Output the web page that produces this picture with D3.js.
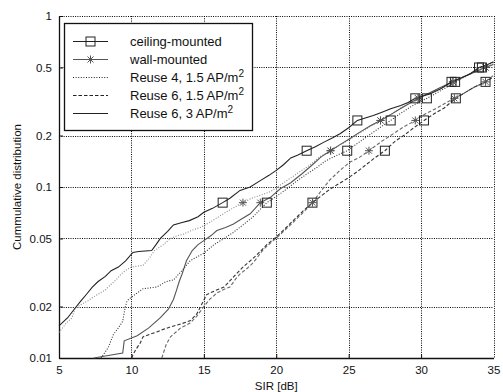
<!DOCTYPE html>
<html>
<head>
<meta charset="utf-8">
<script src="https://cdn.jsdelivr.net/npm/d3@7"></script>
<style>
  body { margin: 0; background: #fff; }
  svg { display: block; font-family: "Liberation Sans", Arial, Helvetica, sans-serif; }
</style>
</head>
<body>
<div id="chart"></div>
<script>
// axis ticks
const xTicks = [5, 10, 15, 20, 25, 30, 35];
const yTicks = [0.01, 0.02, 0.05, 0.1, 0.2, 0.5, 1];
const yTickLabels = ["0.01", "0.02", "0.05", "0.1", "0.2", "0.5", "1"];

// CDF levels at which the markers sit
const markerLevels = [0.081, 0.163, 0.245, 0.33, 0.412, 0.5];

// ceiling-mounted, Reuse 6, 3 AP/m2 (solid)
const ceilR6hi = [[5,0.0154],[5.6,0.0172],[6.2,0.020],[6.5,0.0215],[6.9,0.0236],[7.3,0.026],[7.7,0.028],[8.2,0.030],[8.6,0.0324],[9.1,0.034],[9.6,0.037],[10.1,0.0414],[10.5,0.042],[11.4,0.0425],[11.7,0.046],[12.0,0.050],[12.5,0.055],[12.9,0.060],[13.5,0.062],[14.0,0.0636],[14.6,0.067],[15.0,0.0712],[15.6,0.075],[16.3,0.081],[16.8,0.086],[17.5,0.0955],[18.2,0.100],[18.9,0.109],[19.5,0.117],[20.0,0.125],[20.5,0.135],[21.0,0.148],[21.5,0.154],[22.1,0.163],[22.7,0.172],[23.3,0.183],[23.9,0.194],[24.4,0.205],[25.0,0.222],[25.6,0.245],[26.2,0.254],[26.7,0.262],[27.3,0.274],[27.9,0.287],[28.6,0.300],[29.1,0.312],[29.6,0.33],[30.6,0.350],[31.4,0.377],[32.1,0.412],[32.8,0.435],[33.4,0.46],[34.0,0.50],[34.6,0.52],[35,0.54]];
const ceilR6hiMarks = [16.3, 22.1, 25.6, 29.6, 32.1, 34.0];

// ceiling-mounted, Reuse 4, 1.5 AP/m2 (dotted)
const ceilR4 = [[7.9,0.0100],[8.4,0.0115],[8.75,0.0137],[9.1,0.015],[9.4,0.0164],[9.56,0.0196],[9.7,0.0216],[10.0,0.0227],[10.8,0.0254],[11.75,0.026],[12.4,0.028],[12.9,0.0286],[13.5,0.0325],[14.05,0.037],[15.0,0.041],[15.7,0.046],[16.35,0.0497],[17.0,0.054],[17.7,0.060],[18.4,0.067],[19.35,0.081],[20.0,0.088],[20.7,0.097],[21.4,0.108],[22.1,0.119],[22.8,0.13],[23.4,0.142],[24.1,0.152],[24.9,0.163],[25.6,0.18],[26.3,0.198],[27.0,0.218],[27.9,0.245],[28.6,0.27],[29.3,0.295],[29.9,0.315],[30.4,0.33],[31.0,0.352],[31.7,0.38],[32.35,0.412],[33.0,0.44],[33.6,0.47],[34.2,0.5],[35,0.535]];
const ceilR4Marks = [19.35, 24.9, 27.9, 30.4, 32.35, 34.2];

// ceiling-mounted, Reuse 6, 1.5 AP/m2 (dashed)
const ceilR6 = [[10.0,0.0100],[10.3,0.0112],[10.6,0.0122],[10.8,0.0133],[11.3,0.0138],[11.75,0.0142],[12.2,0.0147],[12.7,0.0152],[13.4,0.0158],[14.05,0.0165],[14.5,0.018],[14.9,0.021],[15.2,0.0235],[15.8,0.0248],[16.4,0.026],[17.05,0.0298],[17.7,0.034],[18.2,0.037],[18.65,0.040],[19.35,0.046],[20.0,0.051],[20.6,0.057],[21.2,0.064],[21.9,0.073],[22.5,0.081],[23.2,0.09],[23.7,0.097],[24.2,0.103],[24.9,0.112],[25.6,0.123],[26.2,0.135],[26.8,0.148],[27.5,0.163],[28.2,0.185],[28.8,0.2],[29.5,0.222],[30.2,0.245],[30.9,0.268],[31.6,0.29],[32.0,0.31],[32.4,0.33],[33.0,0.355],[33.7,0.385],[34.45,0.412],[35,0.44]];
const ceilR6Marks = [22.5, 27.5, 30.2, 32.4, 34.45];

// wall-mounted, Reuse 6, 3 AP/m2 (solid)
const wallR6hi = [[7.4,0.0100],[8.3,0.0103],[9.4,0.0107],[9.5,0.0126],[10.4,0.0135],[11.2,0.015],[12.0,0.0172],[12.55,0.0193],[12.9,0.022],[13.1,0.0247],[13.3,0.028],[13.5,0.031],[13.8,0.037],[14.2,0.0425],[14.6,0.046],[15.0,0.0486],[15.5,0.052],[15.9,0.0556],[16.5,0.058],[17.05,0.0607],[17.6,0.065],[18.2,0.0697],[18.9,0.081],[19.6,0.087],[20.3,0.098],[21.0,0.106],[21.8,0.12],[22.5,0.135],[23.1,0.15],[23.75,0.163],[24.4,0.177],[25.1,0.192],[25.8,0.21],[26.5,0.228],[27.2,0.245],[27.9,0.265],[28.5,0.285],[29.1,0.305],[29.8,0.33],[30.5,0.352],[31.3,0.38],[32.2,0.412],[32.9,0.44],[33.7,0.47],[34.45,0.50],[35,0.52]];
const wallR6hiMarks = [18.9, 23.75, 27.2, 29.8, 32.2, 34.45];

// wall-mounted, Reuse 4, 1.5 AP/m2 (dotted)
const wallR4 = [[5,0.0141],[5.5,0.016],[5.9,0.0172],[6.1,0.0195],[6.5,0.0205],[7.0,0.0216],[7.4,0.0228],[7.7,0.0236],[8.2,0.025],[8.6,0.027],[9.0,0.029],[9.3,0.031],[9.6,0.0325],[10.0,0.034],[10.4,0.0345],[10.8,0.0348],[11.2,0.038],[11.6,0.0425],[12.2,0.046],[12.7,0.050],[13.2,0.052],[13.6,0.053],[14.2,0.056],[14.75,0.058],[15.4,0.062],[15.9,0.066],[16.5,0.071],[17.1,0.076],[17.7,0.081],[18.3,0.086],[19.0,0.090],[19.6,0.094],[20.3,0.103],[21.0,0.113],[21.7,0.124],[22.3,0.134],[23.0,0.150],[23.75,0.163],[24.5,0.178],[25.2,0.193],[25.9,0.21],[26.5,0.226],[27.2,0.245],[27.9,0.265],[28.6,0.29],[29.2,0.31],[29.8,0.33],[30.5,0.352],[31.2,0.375],[31.7,0.395],[32.2,0.412],[32.9,0.44],[33.6,0.465],[34.45,0.50],[35,0.525]];
const wallR4Marks = [17.7, 23.75, 27.2, 29.8, 32.2, 34.45];

// wall-mounted, Reuse 6, 1.5 AP/m2 (dashed)
const wallR6 = [[12.1,0.0100],[12.4,0.012],[12.7,0.0133],[13.4,0.015],[14.05,0.016],[14.5,0.0175],[15.0,0.020],[15.4,0.022],[15.9,0.024],[16.3,0.025],[16.8,0.026],[17.2,0.029],[17.5,0.031],[18.0,0.0335],[18.4,0.036],[19.1,0.043],[19.6,0.047],[20.2,0.052],[20.8,0.058],[21.4,0.065],[22.0,0.073],[22.5,0.081],[23.1,0.095],[23.7,0.11],[24.4,0.125],[25.1,0.14],[25.8,0.15],[26.4,0.163],[27.2,0.183],[27.9,0.2],[28.7,0.222],[29.6,0.245],[30.3,0.268],[31.1,0.29],[31.7,0.31],[32.3,0.33],[33.0,0.355],[33.7,0.385],[34.45,0.412],[35,0.45]];
const wallR6Marks = [22.5, 26.4, 29.6, 32.3, 34.45];

const legendLabels = ["ceiling-mounted", "wall-mounted", "Reuse 4, 1.5 AP/m", "Reuse 6, 1.5 AP/m", "Reuse 6, 3 AP/m"];

(function() {
    const width = 503, height = 392;
    const left = 59, right = 493.5, top = 16, bottom = 358;

    const dotted = "1,1.6", dashed = "3.5,2";

    const series = [
        { pts: wallR4,   marks: wallR4Marks,   dash: dotted, color: "#8a8a8a", marker: "star" },
        { pts: wallR6,   marks: wallR6Marks,   dash: dashed, color: "#6a6a6a", marker: "star" },
        { pts: wallR6hi, marks: wallR6hiMarks, dash: null,   color: "#555",    marker: "star" },
        { pts: ceilR4,   marks: ceilR4Marks,   dash: dotted, color: "#333",    marker: "square" },
        { pts: ceilR6,   marks: ceilR6Marks,   dash: dashed, color: "#333",    marker: "square" },
        { pts: ceilR6hi, marks: ceilR6hiMarks, dash: null,   color: "#222",    marker: "square" }
    ];

    const svg = d3.select("#chart")
        .append("svg")
        .attr("width", width)
        .attr("height", height);

    svg.append("rect")
        .attr("width", width)
        .attr("height", height)
        .attr("fill", "#fff");

    const x = d3.scaleLinear().domain([5, 35]).range([left, right]);
    const y = d3.scaleLog().domain([0.01, 1]).range([bottom, top]);

    // dotted grid (top and right edges are grid lines too)
    const grid = svg.append("g")
        .attr("stroke", "#000")
        .attr("stroke-width", 1)
        .attr("stroke-dasharray", "1,1.3");

    grid.selectAll("line.v")
        .data(xTicks.slice(1))
        .join("line")
        .attr("class", "v")
        .attr("x1", d => Math.round(x(d)) + 0.5)
        .attr("x2", d => Math.round(x(d)) + 0.5)
        .attr("y1", top)
        .attr("y2", bottom);

    grid.selectAll("line.h")
        .data(yTicks.slice(1))
        .join("line")
        .attr("class", "h")
        .attr("x1", left)
        .attr("x2", right)
        .attr("y1", d => Math.round(y(d)) + 0.5)
        .attr("y2", d => Math.round(y(d)) + 0.5);

    // axes
    const xAxis = svg.append("g")
        .attr("transform", `translate(0,${bottom})`)
        .call(d3.axisBottom(x).tickValues(xTicks).tickSizeInner(-4).tickSizeOuter(0).tickPadding(8));

    const yAxis = svg.append("g")
        .attr("transform", `translate(${left},0)`)
        .call(d3.axisLeft(y).tickValues(yTicks).tickFormat((d, i) => yTickLabels[i])
            .tickSizeInner(-4).tickSizeOuter(0).tickPadding(7));

    [xAxis, yAxis].forEach(a => {
        a.selectAll("text")
            .attr("font-size", "11.5px")
            .attr("font-family", "'Liberation Sans', Arial, sans-serif")
            .attr("fill", "#111");
        a.select(".domain").attr("stroke", "#111").attr("stroke-width", 1.3);
        a.selectAll(".tick line").attr("stroke", "#111");
    });
    xAxis.select(".tick:last-of-type line").remove();
    xAxis.select(".tick:first-of-type line").remove();

    // curves
    const line = d3.line()
        .x(d => x(d[0]))
        .y(d => y(d[1]));

    const plot = svg.append("g");

    series.forEach(s => {
        plot.append("path")
            .datum(s.pts)
            .attr("fill", "none")
            .attr("stroke", s.color)
            .attr("stroke-width", 1.1)
            .attr("stroke-dasharray", s.dash)
            .attr("d", line);
    });

    function drawMarker(g, type, cx, cy, color) {
        if (type === "square") {
            g.append("rect")
                .attr("x", cx - 4.5)
                .attr("y", cy - 4.5)
                .attr("width", 9)
                .attr("height", 9)
                .attr("fill", "none")
                .attr("stroke", color)
                .attr("stroke-width", 1);
        } else {
            const r = 4, q = 3;
            g.append("path")
                .attr("d", `M${cx - r},${cy}H${cx + r}M${cx},${cy - r}V${cy + r}` +
                    `M${cx - q},${cy - q}L${cx + q},${cy + q}M${cx - q},${cy + q}L${cx + q},${cy - q}`)
                .attr("fill", "none")
                .attr("stroke", color)
                .attr("stroke-width", 1);
        }
    }

    series.forEach(s => {
        s.marks.forEach((mx, i) => {
            drawMarker(plot, s.marker, x(mx), y(markerLevels[i]), s.marker === "square" ? "#222" : "#555");
        });
    });

    // legend
    const lg = svg.append("g");
    lg.append("rect")
        .attr("x", 64.5)
        .attr("y", 23.5)
        .attr("width", 188)
        .attr("height", 107)
        .attr("fill", "#fff")
        .attr("stroke", "#111")
        .attr("stroke-width", 1.3);

    const rowY = [41, 59, 77, 95, 113];
    const legendStyles = [
        { dash: null, color: "#222", marker: "square" },
        { dash: null, color: "#555", marker: "star" },
        { dash: dotted, color: "#222", marker: null },
        { dash: dashed, color: "#222", marker: null },
        { dash: null, color: "#222", marker: null }
    ];

    legendLabels.forEach((label, i) => {
        const st = legendStyles[i];
        lg.append("line")
            .attr("x1", 73).attr("x2", 108)
            .attr("y1", rowY[i] + 0.5).attr("y2", rowY[i] + 0.5)
            .attr("stroke", st.color)
            .attr("stroke-width", 1.1)
            .attr("stroke-dasharray", st.dash);
        if (st.marker) drawMarker(lg, st.marker, 90.5, rowY[i] + 0.5, st.color);

        const t = lg.append("text")
            .attr("x", 130)
            .attr("y", rowY[i] + 4.5)
            .attr("font-size", "13px")
            .attr("fill", "#111")
            .text(label);
        if (i >= 2) {
            t.append("tspan")
                .attr("dy", -5)
                .attr("font-size", "10px")
                .text("2");
        }
    });

    // axis titles
    svg.append("text")
        .attr("x", (left + right) / 2)
        .attr("y", 390)
        .attr("text-anchor", "middle")
        .attr("font-size", "11.5px")
        .attr("fill", "#111")
        .text("SIR [dB]");

    svg.append("text")
        .attr("transform", `translate(21,${(top + bottom) / 2}) rotate(-90)`)
        .attr("text-anchor", "middle")
        .attr("font-size", "11.5px")
        .attr("fill", "#111")
        .text("Cummulative distribution");
})();
</script>
</body>
</html>
